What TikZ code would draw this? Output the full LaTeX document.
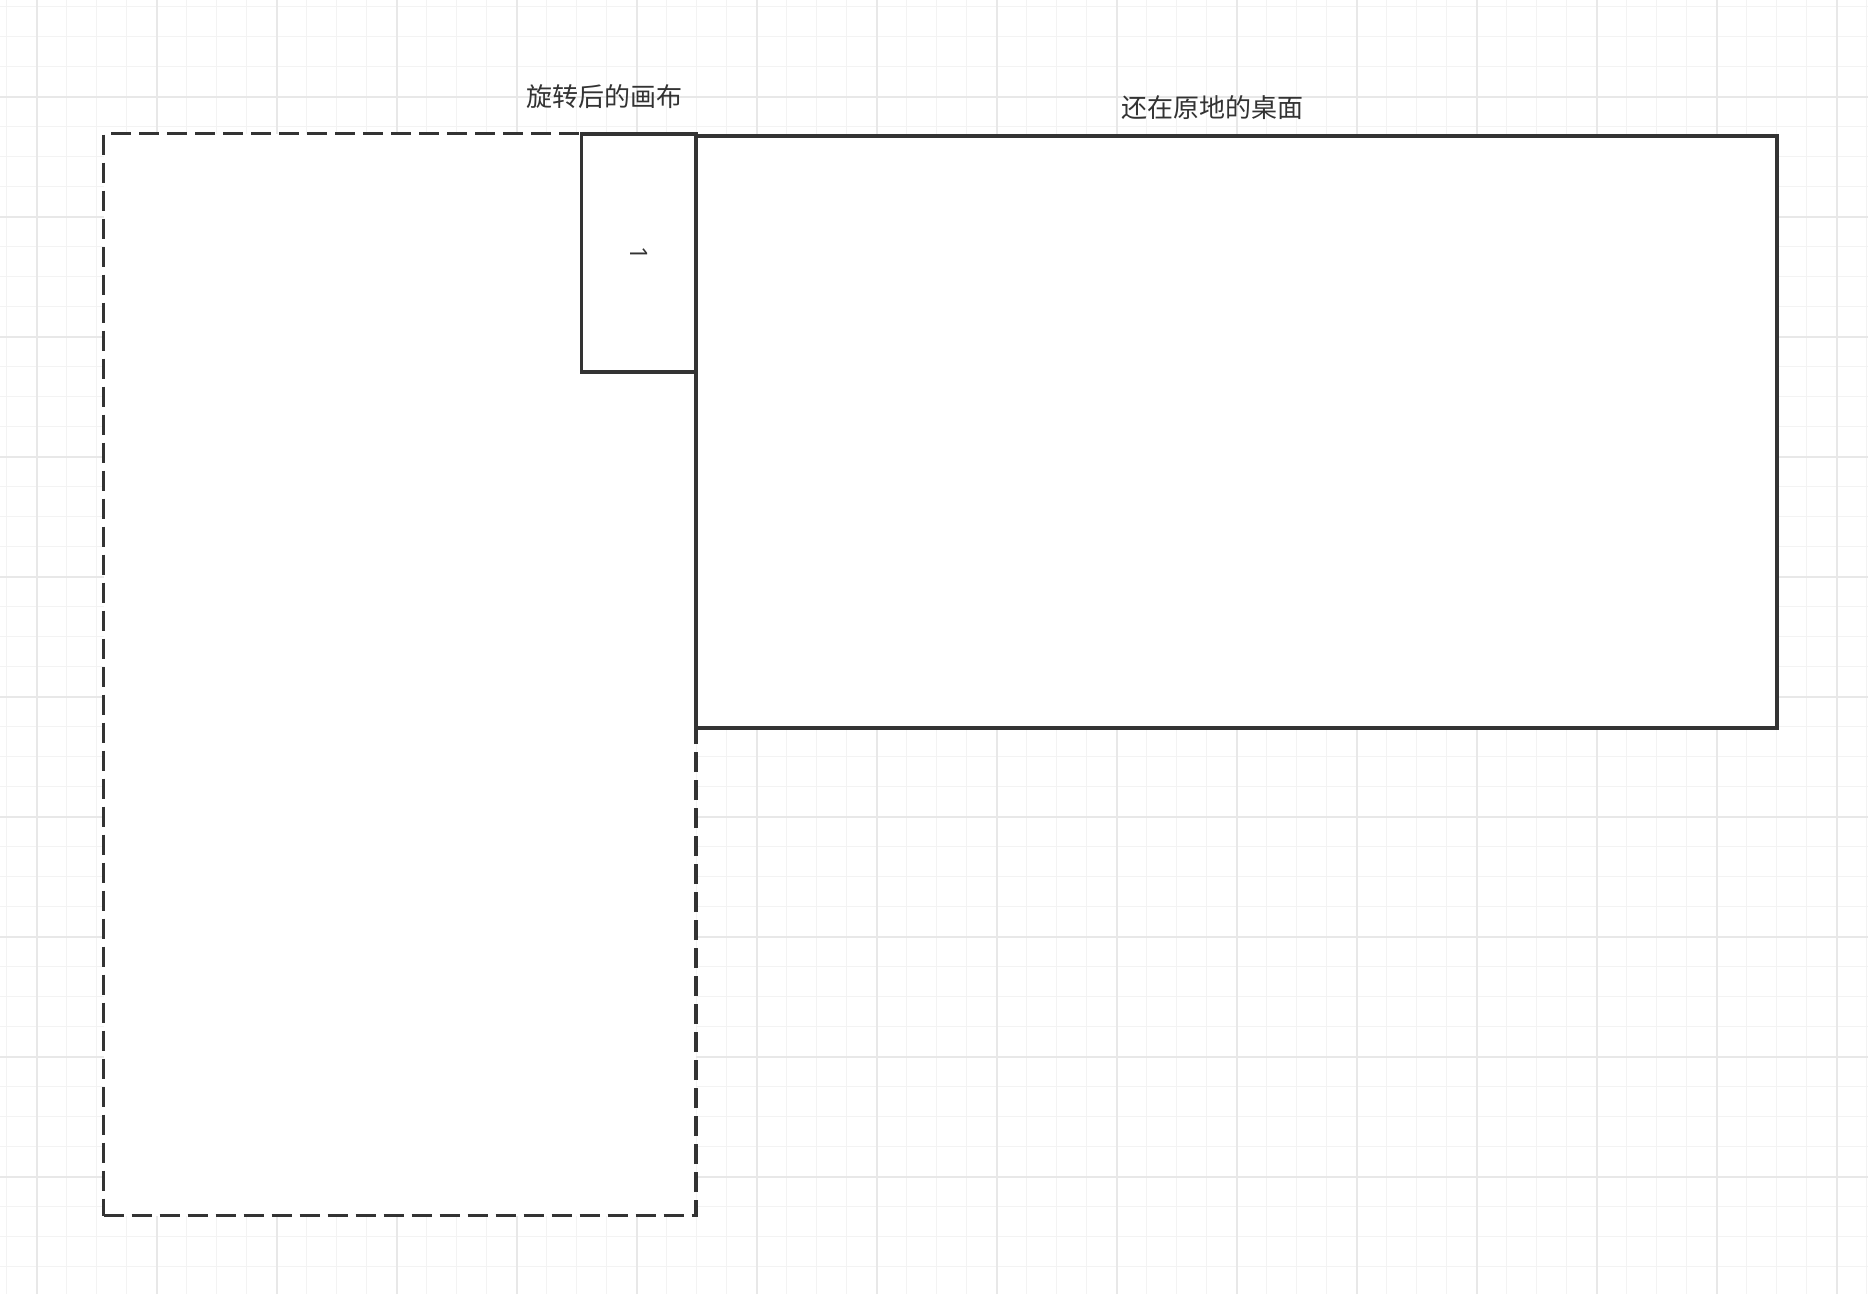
\documentclass[tikz,border=0pt]{standalone}
\usepackage{fontspec}
\newfontfamily\cjk{Noto Sans CJK SC}
\newfontfamily\digitfont{Open Sans}
\definecolor{ink}{HTML}{333333}
\definecolor{gridminor}{RGB}{243,243,243}
\definecolor{gridmajor}{RGB}{232,232,232}
\tikzset{
  minorline/.style={draw=gridminor, line width=1.5pt},
  majorline/.style={draw=gridmajor, line width=2pt},
  solidbox/.style={draw=ink, fill=white, line width=3.4pt, inner sep=0pt, outer sep=0pt},
  dashbox/.style={solidbox, dash pattern=on 20pt off 8pt},
  lbl/.style={text=ink, inner sep=0pt, font=\cjk\fontsize{26}{30}\selectfont}
}
\begin{document}
\begin{tikzpicture}[x=1pt,y=-1pt]
\useasboundingbox (0,0) rectangle (1868,1294);
\fill[white] (0,0) rectangle (1868,1294);
% grid
\foreach \i in {0,...,62} \draw[minorline] (6.7+30*\i,0) -- (6.7+30*\i,1294);
\foreach \i in {0,...,43} \draw[minorline] (0,6.7+30*\i) -- (1868,6.7+30*\i);
\foreach \i in {0,...,15} \draw[majorline] (36.7+120*\i,0) -- (36.7+120*\i,1294);
\foreach \i in {0,...,9} \draw[majorline] (0,96.7+120*\i) -- (1868,96.7+120*\i);
% shapes
\node[dashbox, minimum width=592.5pt, minimum height=1082pt] (canvas) at (399.75,674.5) {};
\node[solidbox, minimum width=1081pt, minimum height=592pt] (desk) at (1236.5,432) {};
\node[solidbox, minimum width=114.5pt, minimum height=238pt] (small) at (638.75,253) {};
\node[lbl, rotate=-90, font=\digitfont\fontsize{24}{28}\selectfont] (one) at (small.center) {1};
% labels
\node[lbl] (lcanvas) at (604,96.5) {旋转后的画布};
\node[lbl] (ldesk) at (1212,108) {还在原地的桌面};
\end{tikzpicture}
\end{document}
